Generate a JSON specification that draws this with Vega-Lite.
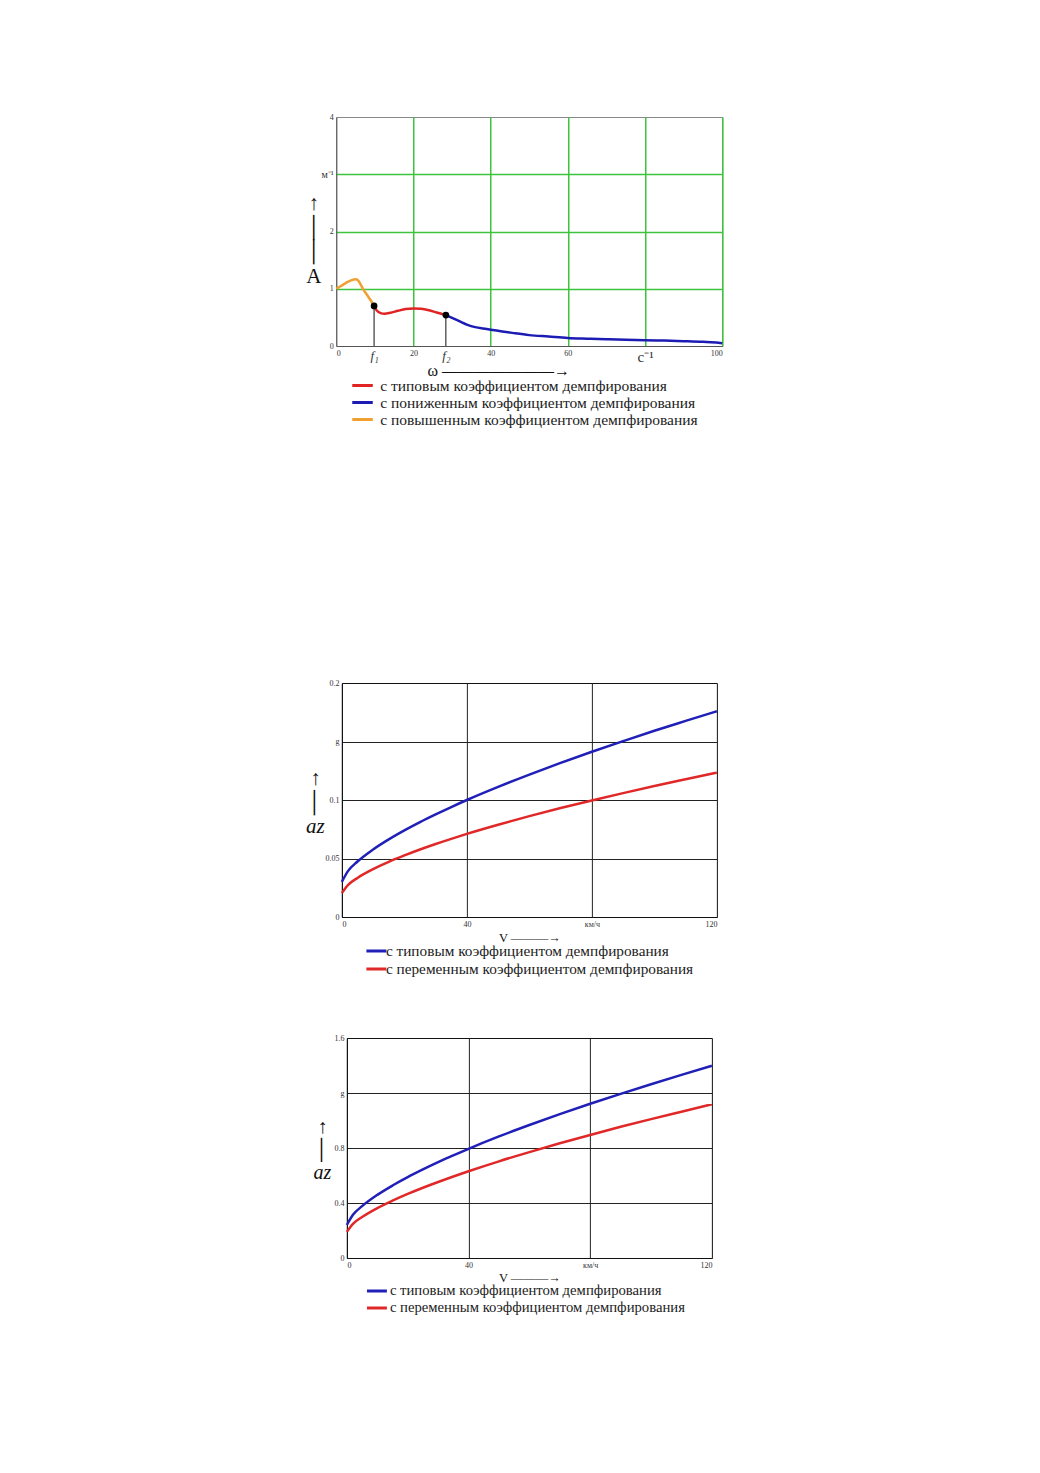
{
  "$schema": "https://vega.github.io/schema/vega-lite/v6.json",
  "background": "white",
  "padding": {"left": 305, "top": 112, "right": 5, "bottom": 5},
  "config": {
    "font": "Liberation Serif",
    "axis": {"labelFont": "Liberation Serif", "titleFont": "Liberation Serif", "titleFontWeight": "normal", "ticks": false, "labelColor": "#333", "titleColor": "#111"},
    "legend": {"labelFont": "Liberation Serif", "padding": 0}
  },
  "center": true,
  "spacing": 249,
  "resolve": {"scale": {"color": "independent"}, "legend": {"color": "independent"}},
  "vconcat": [
    {
      "width": 386,
      "height": 229,
      "view": {"stroke": "#888"},
      "layer": [
        {
          "data": {"values": [
            {"w": 0, "A": 1.0, "s": "с повышенным коэффициентом демпфирования"},
            {"w": 1, "A": 1.04, "s": "с повышенным коэффициентом демпфирования"},
            {"w": 2, "A": 1.08, "s": "с повышенным коэффициентом демпфирования"},
            {"w": 3, "A": 1.12, "s": "с повышенным коэффициентом демпфирования"},
            {"w": 4, "A": 1.15, "s": "с повышенным коэффициентом демпфирования"},
            {"w": 5, "A": 1.165, "s": "с повышенным коэффициентом демпфирования"},
            {"w": 5.6, "A": 1.15, "s": "с повышенным коэффициентом демпфирования"},
            {"w": 6.2, "A": 1.09, "s": "с повышенным коэффициентом демпфирования"},
            {"w": 7, "A": 0.99, "s": "с повышенным коэффициентом демпфирования"},
            {"w": 8, "A": 0.89, "s": "с повышенным коэффициентом демпфирования"},
            {"w": 9, "A": 0.79, "s": "с повышенным коэффициентом демпфирования"},
            {"w": 9.8, "A": 0.7, "s": "с повышенным коэффициентом демпфирования"},
            {"w": 9.8, "A": 0.7, "s": "с типовым коэффициентом демпфирования"},
            {"w": 10.5, "A": 0.62, "s": "с типовым коэффициентом демпфирования"},
            {"w": 11.5, "A": 0.575, "s": "с типовым коэффициентом демпфирования"},
            {"w": 12.5, "A": 0.565, "s": "с типовым коэффициентом демпфирования"},
            {"w": 14, "A": 0.58, "s": "с типовым коэффициентом демпфирования"},
            {"w": 16, "A": 0.615, "s": "с типовым коэффициентом демпфирования"},
            {"w": 18, "A": 0.645, "s": "с типовым коэффициентом демпфирования"},
            {"w": 20, "A": 0.655, "s": "с типовым коэффициентом демпфирования"},
            {"w": 22, "A": 0.65, "s": "с типовым коэффициентом демпфирования"},
            {"w": 24, "A": 0.625, "s": "с типовым коэффициентом демпфирования"},
            {"w": 26, "A": 0.585, "s": "с типовым коэффициентом демпфирования"},
            {"w": 28.4, "A": 0.54, "s": "с типовым коэффициентом демпфирования"},
            {"w": 28.4, "A": 0.54, "s": "с пониженным коэффициентом демпфирования"},
            {"w": 30, "A": 0.49, "s": "с пониженным коэффициентом демпфирования"},
            {"w": 32, "A": 0.43, "s": "с пониженным коэффициентом демпфирования"},
            {"w": 34, "A": 0.37, "s": "с пониженным коэффициентом демпфирования"},
            {"w": 36, "A": 0.33, "s": "с пониженным коэффициентом демпфирования"},
            {"w": 38, "A": 0.305, "s": "с пониженным коэффициентом демпфирования"},
            {"w": 40, "A": 0.285, "s": "с пониженным коэффициентом демпфирования"},
            {"w": 43, "A": 0.255, "s": "с пониженным коэффициентом демпфирования"},
            {"w": 46, "A": 0.225, "s": "с пониженным коэффициентом демпфирования"},
            {"w": 50, "A": 0.19, "s": "с пониженным коэффициентом демпфирования"},
            {"w": 55, "A": 0.165, "s": "с пониженным коэффициентом демпфирования"},
            {"w": 60, "A": 0.14, "s": "с пониженным коэффициентом демпфирования"},
            {"w": 65, "A": 0.128, "s": "с пониженным коэффициентом демпфирования"},
            {"w": 70, "A": 0.118, "s": "с пониженным коэффициентом демпфирования"},
            {"w": 75, "A": 0.11, "s": "с пониженным коэффициентом демпфирования"},
            {"w": 80, "A": 0.102, "s": "с пониженным коэффициентом демпфирования"},
            {"w": 85, "A": 0.094, "s": "с пониженным коэффициентом демпфирования"},
            {"w": 90, "A": 0.085, "s": "с пониженным коэффициентом демпфирования"},
            {"w": 95, "A": 0.073, "s": "с пониженным коэффициентом демпфирования"},
            {"w": 100, "A": 0.05, "s": "с пониженным коэффициентом демпфирования"}
          ]},
          "mark": {"type": "line", "strokeWidth": 2.5, "interpolate": "monotone"},
          "encoding": {
            "x": {
              "field": "w", "type": "quantitative",
              "scale": {"domain": [0, 100], "nice": false},
              "axis": {
                "values": [0, 9.8, 20, 28.4, 40, 60, 80, 100],
                "labelExpr": "datum.value == 9.8 ? 'f₁' : datum.value == 28.4 ? 'f₂' : datum.value == 80 ? 'c⁻¹' : toString(datum.value)",
                "labelFontSize": {"condition": [{"test": "datum.value == 80", "value": 15}, {"test": "datum.value == 9.8 || datum.value == 28.4", "value": 13}], "value": 8},
                "labelFontStyle": {"condition": {"test": "datum.value == 9.8 || datum.value == 28.4", "value": "italic"}, "value": "normal"},
                "labelPadding": 3,
                "grid": true,
                "gridColor": {"condition": {"test": "datum.value == 9.8 || datum.value == 28.4 || datum.value == 0", "value": "transparent"}, "value": "#3cc43c"},
                "gridWidth": 1.5,
                "domainColor": "#555",
                "title": "ω ———————→",
                "titleFontSize": 16,
                "titleBaseline": "top",
                "titleX": 162,
                "titleY": 16
              }
            },
            "y": {
              "field": "A", "type": "quantitative",
              "scale": {"domain": [0, 4], "nice": false},
              "axis": {
                "values": [0, 1, 2, 3, 4],
                "labelExpr": "datum.value == 3 ? 'м⁻¹' : toString(datum.value)",
                "labelFontSize": {"condition": {"test": "datum.value == 3", "value": 10}, "value": 8},
                "labelPadding": 3,
                "grid": true,
                "gridColor": {"condition": {"test": "datum.value == 0 || datum.value == 4", "value": "transparent"}, "value": "#3cc43c"},
                "gridWidth": 1.5,
                "domainColor": "#555",
                "title": ["↑", "│", "│", "A"],
                "titleAngle": 0,
                "titleFontSize": 21,
                "titleLineHeight": 24.4,
                "titleAlign": "center",
                "titleBaseline": "alphabetic",
                "titleX": -23,
                "titleY": 92
              }
            },
            "color": {
              "field": "s", "type": "nominal",
              "scale": {
                "domain": ["с типовым коэффициентом демпфирования", "с пониженным коэффициентом демпфирования", "с повышенным коэффициентом демпфирования"],
                "range": ["#e02424", "#1c1cb4", "#f0a030"]
              },
              "legend": {
                "title": null, "orient": "none", "legendX": 16, "legendY": 260, "direction": "vertical",
                "symbolType": "M-1.24,0H1.24", "symbolStrokeWidth": 3, "symbolSize": 289,
                "labelFontSize": 15.5, "labelColor": "#222", "labelOffset": 8, "labelLimit": 0,
                "clipHeight": 17, "rowPadding": 0
              }
            }
          }
        },
        {
          "data": {"values": [{"w": 9.8, "A": 0.7}, {"w": 28.4, "A": 0.54}]},
          "mark": {"type": "rule", "color": "#111", "strokeWidth": 1},
          "encoding": {
            "x": {"field": "w", "type": "quantitative"},
            "y": {"field": "A", "type": "quantitative"},
            "y2": {"datum": 0}
          }
        },
        {
          "data": {"values": [{"w": 9.8, "A": 0.7}, {"w": 28.4, "A": 0.54}]},
          "mark": {"type": "point", "filled": true, "color": "#000", "size": 45, "opacity": 1},
          "encoding": {
            "x": {"field": "w", "type": "quantitative"},
            "y": {"field": "A", "type": "quantitative"}
          }
        }
      ]
    },
    {
      "center": true,
      "spacing": 54,
      "resolve": {"scale": {"color": "independent"}, "legend": {"color": "independent"}},
      "vconcat": [
        {
          "width": 375,
          "height": 234,
          "view": {"stroke": "#111"},
          "data": {"values": [
            {"v": 0, "a": 0.030, "s": "с типовым коэффициентом демпфирования"},
            {"v": 2, "a": 0.0394, "s": "с типовым коэффициентом демпфирования"},
            {"v": 5, "a": 0.0474, "s": "с типовым коэффициентом демпфирования"},
            {"v": 10, "a": 0.0577, "s": "с типовым коэффициентом демпфирования"},
            {"v": 15, "a": 0.0663, "s": "с типовым коэффициентом демпфирования"},
            {"v": 20, "a": 0.0740, "s": "с типовым коэффициентом демпфирования"},
            {"v": 25, "a": 0.0811, "s": "с типовым коэффициентом демпфирования"},
            {"v": 30, "a": 0.0877, "s": "с типовым коэффициентом демпфирования"},
            {"v": 35, "a": 0.0940, "s": "с типовым коэффициентом демпфирования"},
            {"v": 40, "a": 0.1000, "s": "с типовым коэффициентом демпфирования"},
            {"v": 50, "a": 0.1112, "s": "с типовым коэффициентом демпфирования"},
            {"v": 60, "a": 0.1217, "s": "с типовым коэффициентом демпфирования"},
            {"v": 70, "a": 0.1317, "s": "с типовым коэффициентом демпфирования"},
            {"v": 80, "a": 0.1412, "s": "с типовым коэффициентом демпфирования"},
            {"v": 90, "a": 0.1503, "s": "с типовым коэффициентом демпфирования"},
            {"v": 100, "a": 0.1592, "s": "с типовым коэффициентом демпфирования"},
            {"v": 110, "a": 0.1676, "s": "с типовым коэффициентом демпфирования"},
            {"v": 120, "a": 0.1759, "s": "с типовым коэффициентом демпфирования"},
            {"v": 0, "a": 0.0204, "s": "с переменным коэффициентом демпфирования"},
            {"v": 2, "a": 0.0274, "s": "с переменным коэффициентом демпфирования"},
            {"v": 5, "a": 0.0334, "s": "с переменным коэффициентом демпфирования"},
            {"v": 10, "a": 0.0409, "s": "с переменным коэффициентом демпфирования"},
            {"v": 15, "a": 0.0471, "s": "с переменным коэффициентом демпфирования"},
            {"v": 20, "a": 0.0526, "s": "с переменным коэффициентом демпфирования"},
            {"v": 25, "a": 0.0577, "s": "с переменным коэффициентом демпфирования"},
            {"v": 30, "a": 0.0624, "s": "с переменным коэффициентом демпфирования"},
            {"v": 35, "a": 0.0668, "s": "с переменным коэффициентом демпфирования"},
            {"v": 40, "a": 0.0710, "s": "с переменным коэффициентом демпфирования"},
            {"v": 50, "a": 0.0788, "s": "с переменным коэффициентом демпфирования"},
            {"v": 60, "a": 0.0862, "s": "с переменным коэффициентом демпфирования"},
            {"v": 70, "a": 0.0931, "s": "с переменным коэффициентом демпфирования"},
            {"v": 80, "a": 0.0996, "s": "с переменным коэффициентом демпфирования"},
            {"v": 90, "a": 0.1059, "s": "с переменным коэффициентом демпфирования"},
            {"v": 100, "a": 0.1119, "s": "с переменным коэффициентом демпфирования"},
            {"v": 110, "a": 0.1177, "s": "с переменным коэффициентом демпфирования"},
            {"v": 120, "a": 0.1234, "s": "с переменным коэффициентом демпфирования"}
          ]},
          "mark": {"type": "line", "strokeWidth": 2.5, "interpolate": "monotone"},
          "encoding": {
            "x": {
              "field": "v", "type": "quantitative",
              "scale": {"domain": [0, 120], "nice": false},
              "axis": {
                "values": [0, 40, 80, 120],
                "labelExpr": "datum.value == 80 ? 'км/ч' : toString(datum.value)",
                "labelFontSize": 8, "labelPadding": 3,
                "grid": true,
                "gridColor": {"condition": {"test": "datum.value == 0 || datum.value == 120", "value": "transparent"}, "value": "#222"},
                "gridWidth": 1,
                "domainColor": "#111",
                "title": "V ———→",
                "titleFontSize": 12.5,
                "titleBaseline": "top",
                "titleY": 14
              }
            },
            "y": {
              "field": "a", "type": "quantitative",
              "scale": {"domain": [0, 0.2], "nice": false},
              "axis": {
                "values": [0, 0.05, 0.1, 0.15, 0.2],
                "labelExpr": "datum.value == 0.15 ? 'g' : toString(datum.value)",
                "labelFontSize": 8, "labelPadding": 3,
                "grid": true,
                "gridColor": {"condition": {"test": "datum.value == 0 || datum.value == 0.2", "value": "transparent"}, "value": "#222"},
                "gridWidth": 1,
                "domainColor": "#111",
                "title": ["↑", "│", "az"],
                "titleAngle": 0,
                "titleFontSize": 21,
                "titleFontStyle": "italic",
                "titleLineHeight": 24.4,
                "titleAlign": "center",
                "titleBaseline": "alphabetic",
                "titleX": -27,
                "titleY": 101
              }
            },
            "color": {
              "field": "s", "type": "nominal",
              "scale": {
                "domain": ["с типовым коэффициентом демпфирования", "с переменным коэффициентом демпфирования"],
                "range": ["#2020b8", "#e02828"]
              },
              "legend": {
                "title": null, "orient": "none", "legendX": 24, "legendY": 259, "direction": "vertical",
                "symbolType": "M-1.11,0H1.11", "symbolStrokeWidth": 3, "symbolSize": 324,
                "labelFontSize": 15.3, "labelColor": "#222", "labelOffset": -1, "labelLimit": 0,
                "clipHeight": 18, "rowPadding": 0
              }
            }
          }
        },
        {
          "width": 365,
          "height": 220,
          "view": {"stroke": "#111"},
          "data": {"values": [
            {"v": 0, "a": 0.240, "s": "с типовым коэффициентом демпфирования"},
            {"v": 2, "a": 0.314, "s": "с типовым коэффициентом демпфирования"},
            {"v": 5, "a": 0.377, "s": "с типовым коэффициентом демпфирования"},
            {"v": 10, "a": 0.459, "s": "с типовым коэффициентом демпфирования"},
            {"v": 15, "a": 0.527, "s": "с типовым коэффициентом демпфирования"},
            {"v": 20, "a": 0.588, "s": "с типовым коэффициентом демпфирования"},
            {"v": 25, "a": 0.644, "s": "с типовым коэффициентом демпфирования"},
            {"v": 30, "a": 0.697, "s": "с типовым коэффициентом демпфирования"},
            {"v": 35, "a": 0.746, "s": "с типовым коэффициентом демпфирования"},
            {"v": 40, "a": 0.794, "s": "с типовым коэффициентом демпфирования"},
            {"v": 50, "a": 0.884, "s": "с типовым коэффициентом демпфирования"},
            {"v": 60, "a": 0.967, "s": "с типовым коэффициентом демпфирования"},
            {"v": 70, "a": 1.046, "s": "с типовым коэффициентом демпфирования"},
            {"v": 80, "a": 1.122, "s": "с типовым коэффициентом демпфирования"},
            {"v": 90, "a": 1.194, "s": "с типовым коэффициентом демпфирования"},
            {"v": 100, "a": 1.264, "s": "с типовым коэффициентом демпфирования"},
            {"v": 110, "a": 1.332, "s": "с типовым коэффициентом демпфирования"},
            {"v": 120, "a": 1.398, "s": "с типовым коэффициентом демпфирования"},
            {"v": 0, "a": 0.190, "s": "с переменным коэффициентом демпфирования"},
            {"v": 2, "a": 0.248, "s": "с переменным коэффициентом демпфирования"},
            {"v": 5, "a": 0.298, "s": "с переменным коэффициентом демпфирования"},
            {"v": 10, "a": 0.363, "s": "с переменным коэффициентом демпфирования"},
            {"v": 15, "a": 0.417, "s": "с переменным коэффициентом демпфирования"},
            {"v": 20, "a": 0.466, "s": "с переменным коэффициентом демпфирования"},
            {"v": 25, "a": 0.511, "s": "с переменным коэффициентом демпфирования"},
            {"v": 30, "a": 0.553, "s": "с переменным коэффициентом демпфирования"},
            {"v": 35, "a": 0.593, "s": "с переменным коэффициентом демпфирования"},
            {"v": 40, "a": 0.631, "s": "с переменным коэффициентом демпфирования"},
            {"v": 50, "a": 0.703, "s": "с переменным коэффициентом демпфирования"},
            {"v": 60, "a": 0.770, "s": "с переменным коэффициентом демпфирования"},
            {"v": 70, "a": 0.834, "s": "с переменным коэффициентом демпфирования"},
            {"v": 80, "a": 0.895, "s": "с переменным коэффициентом демпфирования"},
            {"v": 90, "a": 0.954, "s": "с переменным коэффициентом демпфирования"},
            {"v": 100, "a": 1.010, "s": "с переменным коэффициентом демпфирования"},
            {"v": 110, "a": 1.064, "s": "с переменным коэффициентом демпфирования"},
            {"v": 120, "a": 1.118, "s": "с переменным коэффициентом демпфирования"}
          ]},
          "mark": {"type": "line", "strokeWidth": 2.5, "interpolate": "monotone"},
          "encoding": {
            "x": {
              "field": "v", "type": "quantitative",
              "scale": {"domain": [0, 120], "nice": false},
              "axis": {
                "values": [0, 40, 80, 120],
                "labelExpr": "datum.value == 80 ? 'км/ч' : toString(datum.value)",
                "labelFontSize": 8, "labelPadding": 3,
                "grid": true,
                "gridColor": {"condition": {"test": "datum.value == 0 || datum.value == 120", "value": "transparent"}, "value": "#222"},
                "gridWidth": 1,
                "domainColor": "#111",
                "title": "V ———→",
                "titleFontSize": 12.5,
                "titleBaseline": "top",
                "titleY": 13
              }
            },
            "y": {
              "field": "a", "type": "quantitative",
              "scale": {"domain": [0, 1.6], "nice": false},
              "axis": {
                "values": [0, 0.4, 0.8, 1.2, 1.6],
                "labelExpr": "datum.value == 1.2 ? 'g' : toString(datum.value)",
                "labelFontSize": 8, "labelPadding": 3,
                "grid": true,
                "gridColor": {"condition": {"test": "datum.value == 0 || datum.value == 1.6", "value": "transparent"}, "value": "#222"},
                "gridWidth": 1,
                "domainColor": "#111",
                "title": ["↑", "│", "az"],
                "titleAngle": 0,
                "titleFontSize": 20,
                "titleFontStyle": "italic",
                "titleLineHeight": 23.2,
                "titleAlign": "center",
                "titleBaseline": "alphabetic",
                "titleX": -25,
                "titleY": 94
              }
            },
            "color": {
              "field": "s", "type": "nominal",
              "scale": {
                "domain": ["с типовым коэффициентом демпфирования", "с переменным коэффициентом демпфирования"],
                "range": ["#2020b8", "#e02828"]
              },
              "legend": {
                "title": null, "orient": "none", "legendX": 20, "legendY": 244.5, "direction": "vertical",
                "symbolType": "M-1.18,0H1.18", "symbolStrokeWidth": 3, "symbolSize": 289,
                "labelFontSize": 14.7, "labelColor": "#222", "labelOffset": 3, "labelLimit": 0,
                "clipHeight": 17, "rowPadding": 0
              }
            }
          }
        }
      ]
    }
  ]
}
